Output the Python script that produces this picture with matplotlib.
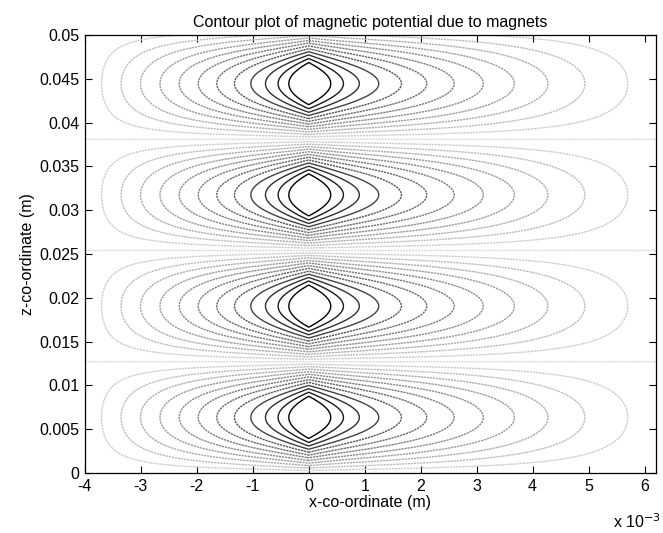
import numpy as np
import matplotlib
matplotlib.use("Agg")
import matplotlib.pyplot as plt

plt.rcParams['font.family'] = ['Liberation Sans', 'DejaVu Sans']

# magnet stack, lengths in m
pitch = 0.0127            # length of one magnet, polarity flips every pitch
x_min, x_max = -4e-3, 6.2e-3
z_min, z_max = 0.0, 0.05

# how the potential falls off either side of the magnets at x = 0
core_share = 0.2
core_len = 0.5e-3
reach_left, power_left = 4.05e-3, 1.0
reach_right, power_right = 6.9e-3, 1.4

# contour levels (relative to the peak potential)
n_levels = 12
level_step = 0.069

x_ticks = [-4, -3, -2, -1, 0, 1, 2, 3, 4, 5, 6]
z_ticks = [0, 0.005, 0.01, 0.015, 0.02, 0.025, 0.03, 0.035, 0.04, 0.045, 0.05]
z_tick_labels = ['0', '0.005', '0.01', '0.015', '0.02', '0.025',
                 '0.03', '0.035', '0.04', '0.045', '0.05']


def decay(x):
    d = np.abs(x)
    reach = np.where(x < 0, reach_left, reach_right)
    power = np.where(x < 0, power_left, power_right)
    tail = np.clip(1 - d / reach, 0, None) ** power
    return core_share * np.exp(-d / core_len) + (1 - core_share) * tail


x = np.linspace(x_min, x_max, 1201)
z = np.linspace(z_min + 1e-6, 0.0508, 1301)
X, Z = np.meshgrid(x, z)
phi = np.sin(np.pi * Z / pitch) * decay(X)

levels = level_step * np.arange(-n_levels, n_levels + 1)
top = np.abs(levels).max()
shades = [0.86 * (1 - abs(lv) / top) ** 0.85 for lv in levels]
colors = [str(s) for s in shades]
styles = ['solid' if s < 0.3 else (0, (1.6, 0.6)) for s in shades]

fig = plt.figure(figsize=(6.63, 5.33), dpi=100)
ax = fig.add_axes([0.128, 0.1126, 0.861, 0.8217])
ax.contour(X, Z, phi, levels=levels, colors=colors,
           linewidths=1.0, linestyles=styles)

ax.set_xlim(x_min, x_max)
ax.set_ylim(z_min, z_max)
ax.set_xticks([t * 1e-3 for t in x_ticks])
ax.set_xticklabels([str(t) for t in x_ticks])
ax.set_yticks(z_ticks)
ax.set_yticklabels(z_tick_labels)
ax.tick_params(direction='in', top=True, right=True, length=5,
               labelsize=11.5, width=0.8, pad=4)
for s in ax.spines.values():
    s.set_linewidth(0.9)

ax.set_xlabel('x-co-ordinate (m)', fontsize=11.5, labelpad=1)
ax.set_ylabel('z-co-ordinate (m)', fontsize=11.5, labelpad=3)
ax.set_title('Contour plot of magnetic potential due to magnets',
             fontsize=11.5, pad=6)
fig.text(0.997, 0.01, r'x 10$^{-3}$', fontsize=11.5, ha='right')

fig.savefig('out.png', dpi=100)
